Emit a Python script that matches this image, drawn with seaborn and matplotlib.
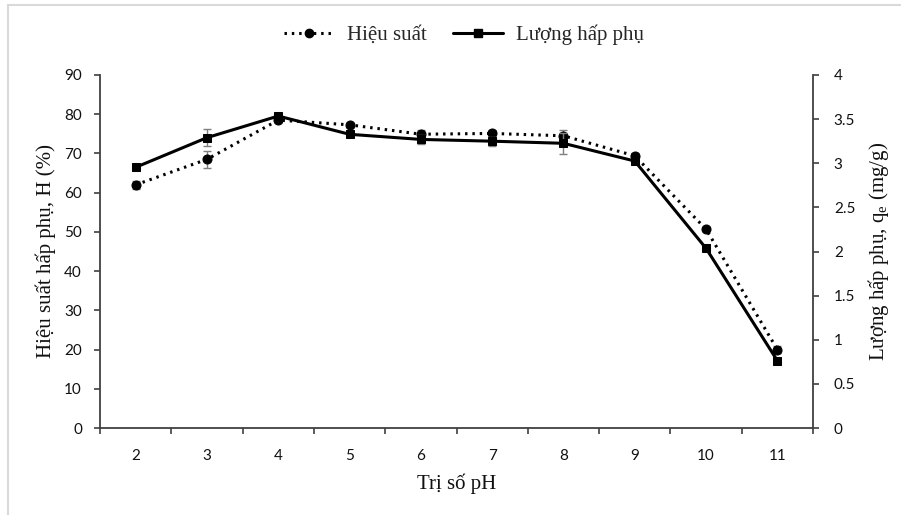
import matplotlib
matplotlib.use("Agg")
import matplotlib.pyplot as plt
from matplotlib.lines import Line2D
import seaborn as sns
import pandas as pd
import numpy as np

ph = [2, 3, 4, 5, 6, 7, 8, 9, 10, 11]
hieu_suat = [62.0, 68.5, 78.5, 77.3, 74.9, 75.1, 74.5, 69.4, 50.7, 20.0]
hieu_suat_err = [1.0, 2.2, 0.5, 0.5, 1.0, 1.0, 1.5, 0.7, 0.5, 0.8]
luong_hp = [2.954, 3.29, 3.535, 3.328, 3.27, 3.25, 3.226, 3.025, 2.036, 0.763]
luong_hp_err = [0.03, 0.10, 0.02, 0.02, 0.05, 0.05, 0.12, 0.03, 0.02, 0.03]

df = pd.DataFrame({"pH": ph, "H": hieu_suat, "Herr": hieu_suat_err,
                   "q": luong_hp, "qerr": luong_hp_err})

sns.set_theme(style="white")
plt.rcParams['font.family'] = ['Liberation Serif', 'DejaVu Serif']

fig = plt.figure(figsize=(9.01, 5.15), dpi=100)
ax = fig.add_axes([100/901, (515-428)/515, (813-100)/901, (428-75)/515])
ax2 = ax.twinx()

axis_col = "#404040"
err_col = "#7f7f7f"
tick_font = ['Lato', 'DejaVu Sans']
label_size = 15

# error bars
ax.errorbar(df["pH"], df["H"], yerr=df["Herr"], fmt="none", ecolor=err_col,
            elinewidth=1, capsize=3, capthick=1, zorder=2)
ax2.errorbar(df["pH"], df["q"], yerr=df["qerr"], fmt="none", ecolor=err_col,
             elinewidth=1, capsize=3, capthick=1, zorder=2)

dotted = (0, (0.8, 1.6))
sns.lineplot(data=df, x="pH", y="H", ax=ax, color="black", linewidth=2.2,
             marker="o", markersize=6.5, markeredgecolor="black", zorder=3)
ax.lines[-1].set_linestyle(dotted)
sns.lineplot(data=df, x="pH", y="q", ax=ax2, color="black", linewidth=2.2,
             marker="s", markersize=6, markeredgecolor="black", zorder=3)

ax.set_xlim(1.5, 11.5)
ax.set_ylim(0, 90)
ax2.set_ylim(0, 4)
ax.set_yticks(np.arange(0, 91, 10))
ax2.set_yticks(np.arange(0, 4.01, 0.5))
ax2.set_yticklabels(["0", "0.5", "1", "1.5", "2", "2.5", "3", "3.5", "4"])
ax.set_xticks(ph)
ax.set_xticklabels([str(p) for p in ph])
ax.set_xticks(np.arange(1.5, 11.6, 1), minor=True)
ax.tick_params(axis="x", which="major", length=0, pad=15)
ax.tick_params(axis="x", which="minor", length=4, width=1.2, color=axis_col, direction="out", bottom=True)
ax.tick_params(axis="y", length=4, width=1.2, color=axis_col, direction="out", left=True, pad=9)
ax2.tick_params(axis="y", length=4, width=1.2, color=axis_col, direction="out", right=True, pad=11)

for lab in ax.get_xticklabels() + ax.get_yticklabels() + ax2.get_yticklabels():
    lab.set_family(tick_font)
    lab.set_fontsize(11)
    lab.set_color("#111111")

for a in (ax, ax2):
    a.spines["top"].set_visible(False)
    for s in ("left", "right", "bottom"):
        a.spines[s].set_color(axis_col)
        a.spines[s].set_linewidth(1.3)
ax.spines["right"].set_visible(False)
ax2.spines["left"].set_visible(False)
ax2.spines["bottom"].set_visible(False)
ax.grid(False)
ax2.grid(False)

ax.set_xlabel("Trị số pH", fontsize=label_size, color="#111111", labelpad=8)
ax.set_ylabel("Hiệu suất hấp phụ, H (%)", fontsize=label_size, color="#111111", labelpad=6)
ax2.set_ylabel("Lượng hấp phụ, q$_\\mathregular{e}$ (mg/g)", fontsize=label_size,
               color="#111111", labelpad=8)

handles = [
    Line2D([0], [0], color="black", linewidth=2.2, linestyle=dotted, marker="o", markersize=6),
    Line2D([0], [0], color="black", linewidth=2.2, linestyle="-", marker="s", markersize=5.5),
]
fig.legend(handles, ["Hiệu suất", "Lượng hấp phụ"], loc="center",
           bbox_to_anchor=(464/901, 1 - 35/515), ncol=2, frameon=False,
           fontsize=label_size, handlelength=2.4, columnspacing=1.25, handletextpad=0.65)

# light border of the chart area
fig.add_artist(Line2D([8/901, 1], [1 - 4.5/515, 1 - 4.5/515], color="#d9d9d9", linewidth=1.5,
                      transform=fig.transFigure))
fig.add_artist(Line2D([8/901, 8/901], [0, 1 - 4.5/515], color="#d9d9d9", linewidth=1.5,
                      transform=fig.transFigure))

fig.savefig("out.png", dpi=100)
